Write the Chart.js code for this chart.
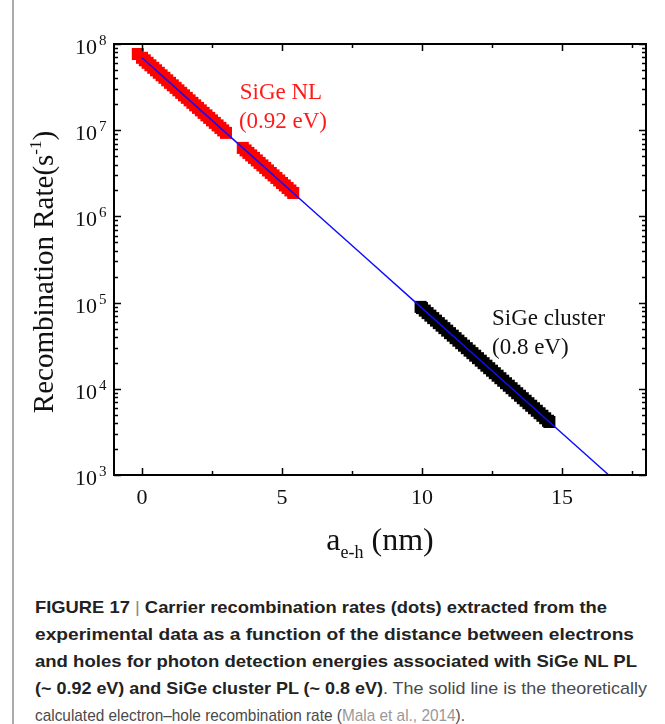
<!DOCTYPE html>
<html>

<head>
  <title>Recombination Rate vs a(e-h)</title>
  <script src="https://cdn.jsdelivr.net/npm/chart.js"></script>
  <style>
    body { margin: 0; background: #fff; }
    #wrap { position: relative; width: 665px; height: 724px; overflow: hidden; background: #fff; }
    #edge { position: absolute; left: 12px; top: 0; width: 2px; height: 724px; background: #ababab; }
    #myChart { position: absolute; left: 0; top: 0; }
    #caption {
      position: absolute; left: 35px; top: 594px;
      font-family: "Liberation Sans", Arial, sans-serif; font-size: 17px; line-height: 27px;
      color: #4a4a4a; white-space: nowrap;
    }
    #caption div { width: max-content; transform-origin: 0 0; }
    #caption b { color: #222; }
    #caption .bar { font-weight: normal; color: #888; }
    #caption .cite { color: #999; }
  </style>
</head>

<body>
  <div id="wrap">
    <div id="edge"></div>
    <canvas id="myChart" width="665" height="580"></canvas>
    <div id="caption">
      <div><b>FIGURE 17 <span class="bar">|</span> Carrier recombination rates (dots) extracted from the</b></div>
      <div><b>experimental data as a function of the distance between electrons</b></div>
      <div><b>and holes for photon detection energies associated with SiGe NL PL</b></div>
      <div><b>(~ 0.92 eV) and SiGe cluster PL (~ 0.8 eV)</b>. The solid line is the theoretically</div>
      <div>calculated electron–hole recombination rate (<span class="cite">Mala et al., 2014</span>).</div>
    </div>
  </div>
  <script>
    // theoretical electron-hole recombination rate (solid line)
    var lineX = [0, 2, 4, 6, 8, 10, 12, 14, 16, 16.67];
    var lineRate = [6.92e7, 1.815e7, 4.77e6, 1.253e6, 3.29e5, 8.63e4, 2.265e4, 5.95e3, 1.562e3, 1.0e3];

    // SiGe NL (0.92 eV) extracted rates
    var nlX = [-0.15, 0.0, 0.1, 0.2, 0.3, 0.4, 0.5, 0.6, 0.7, 0.8, 0.9, 1.0, 1.1, 1.2, 1.3, 1.4,
      1.5, 1.6, 1.7, 1.8, 1.9, 2.0, 2.1, 2.2, 2.3, 2.4, 2.5, 2.6, 2.7, 2.8, 2.9, 3.0,
      3.6, 3.7, 3.8, 3.9, 4.0, 4.1, 4.2, 4.3, 4.4, 4.5, 4.6, 4.7, 4.8, 4.9, 5.0, 5.1, 5.2, 5.3, 5.4];
    var nlRate = [7.65e7, 6.918e7, 6.471e7, 6.053e7, 5.662e7, 5.296e7, 4.954e7, 4.634e7, 4.335e7,
      4.055e7, 3.793e7, 3.545e7, 3.316e7, 3.101e7, 2.901e7, 2.713e7, 2.538e7, 2.374e7, 2.220e7,
      2.077e7, 1.942e7, 1.816e7, 1.699e7, 1.589e7, 1.486e7, 1.390e7, 1.300e7, 1.216e7, 1.137e7,
      1.064e7, 9.95e6, 9.31e6,
      6.232e6, 5.830e6, 5.452e6, 5.100e6, 4.770e6, 4.462e6, 4.172e6, 3.903e6, 3.650e6, 3.414e6,
      3.193e6, 2.987e6, 2.794e6, 2.612e6, 2.443e6, 2.286e6, 2.138e6, 2.000e6, 1.870e6];

    // SiGe cluster (0.8 eV) extracted rates
    var clusterX = [9.95, 10.0, 10.1, 10.2, 10.3, 10.4, 10.5, 10.6, 10.7, 10.8, 10.9, 11.0, 11.1,
      11.2, 11.3, 11.4, 11.5, 11.6, 11.7, 11.8, 11.9, 12.0, 12.1, 12.2, 12.3, 12.4, 12.5, 12.6, 12.7,
      12.8, 12.9, 13.0, 13.1, 13.2, 13.3, 13.4, 13.5, 13.6, 13.7, 13.8, 13.9, 14.0, 14.1, 14.2, 14.3,
      14.4, 14.5, 14.55];
    var clusterRate = [8.92e4, 8.630e4, 8.072e4, 7.550e4, 7.062e4, 6.605e4, 6.178e4, 5.779e4,
      5.404e4, 5.055e4, 4.727e4, 4.422e4, 4.136e4, 3.868e4, 3.618e4, 3.383e4, 3.165e4, 2.960e4,
      2.769e4, 2.590e4, 2.422e4, 2.266e4, 2.119e4, 1.982e4, 1.854e4, 1.734e4, 1.622e4, 1.517e4,
      1.419e4, 1.327e4, 1.241e4, 1.161e4, 1.086e4, 1.016e4, 9.500e3, 8.884e3, 8.310e3, 7.773e3,
      7.270e3, 6.800e3, 6.359e3, 5.948e3, 5.564e3, 5.204e3, 4.867e3, 4.552e3, 4.258e3, 4.118e3];

    var xMajorTicks = [0, 5, 10, 15];
    var xMinorTicks = [2.5, 7.5, 12.5, 17.5];
    var yDecades = [3, 4, 5, 6, 7, 8];

    function toPoints(xs, ys) {
      return xs.map(function (v, i) { return { x: v, y: ys[i] }; });
    }

    const serif = '"Liberation Serif", "Times New Roman", serif';

    // frame, inward ticks on all four sides, labels and titles
    const axesPlugin = {
      id: 'axesPlugin',
      afterDraw(chart) {
        const ctx = chart.ctx;
        const a = chart.chartArea;
        const x = chart.scales.x, y = chart.scales.y;
        ctx.save();
        ctx.strokeStyle = '#000';
        ctx.lineWidth = 1.5;
        ctx.beginPath();
        function xTick(v, len) {
          const px = Math.round(x.getPixelForValue(v)) + 0.5;
          ctx.moveTo(px, a.bottom); ctx.lineTo(px, a.bottom - len);
          ctx.moveTo(px, a.top); ctx.lineTo(px, a.top + len);
        }
        function yTick(v, len) {
          const py = Math.round(y.getPixelForValue(v)) + 0.5;
          ctx.moveTo(a.left, py); ctx.lineTo(a.left + len, py);
          ctx.moveTo(a.right, py); ctx.lineTo(a.right - len, py);
        }
        xMajorTicks.forEach(function (v) { xTick(v, 7); });
        xMinorTicks.forEach(function (v) { xTick(v, 4); });
        yDecades.forEach(function (d, i) {
          yTick(Math.pow(10, d), 7);
          if (i < yDecades.length - 1) {
            for (let m = 2; m <= 9; m++) yTick(m * Math.pow(10, d), 4);
          }
        });
        ctx.stroke();
        ctx.lineWidth = 2;
        ctx.strokeRect(a.left, a.top, a.right - a.left, a.bottom - a.top);

        // tick labels
        ctx.fillStyle = '#111';
        ctx.textBaseline = 'alphabetic';
        ctx.font = '22px ' + serif;
        ctx.textAlign = 'center';
        xMajorTicks.forEach(function (v) {
          ctx.fillText(String(v), x.getPixelForValue(v), a.bottom + 29);
        });
        yDecades.forEach(function (d) {
          const py = y.getPixelForValue(Math.pow(10, d));
          ctx.font = '22px ' + serif;
          ctx.textAlign = 'right';
          ctx.fillText('10', a.left - 17, py + 10);
          ctx.font = '15px ' + serif;
          ctx.textAlign = 'left';
          ctx.fillText(String(d), a.left - 15, py + 1);
        });

        // y title with superscript
        ctx.save();
        ctx.translate(53, 272);
        ctx.rotate(-Math.PI / 2);
        ctx.textAlign = 'left';
        ctx.font = '29px ' + serif;
        const t1 = 'Recombination Rate(s', t3 = ')';
        const w1 = ctx.measureText(t1).width, w3 = ctx.measureText(t3).width;
        ctx.font = '17px ' + serif;
        const w2 = ctx.measureText('-1').width;
        let sx = -(w1 + w2 + w3) / 2;
        ctx.font = '29px ' + serif;
        ctx.fillText(t1, sx, 0);
        ctx.font = '17px ' + serif;
        ctx.fillText('-1', sx + w1, -12);
        ctx.font = '29px ' + serif;
        ctx.fillText(t3, sx + w1 + w2, 0);
        ctx.restore();

        // x title with subscript
        ctx.textAlign = 'left';
        ctx.font = '32px ' + serif;
        const wa = ctx.measureText('a').width, wn = ctx.measureText(' (nm)').width;
        ctx.font = '18px ' + serif;
        const ws = ctx.measureText('e-h').width;
        let tx = 380 - (wa + ws + wn) / 2;
        ctx.font = '32px ' + serif;
        ctx.fillText('a', tx, 550);
        ctx.font = '18px ' + serif;
        ctx.fillText('e-h', tx + wa, 558);
        ctx.font = '32px ' + serif;
        ctx.fillText(' (nm)', tx + wa + ws, 550);

        // series annotations
        ctx.font = '23px ' + serif;
        ctx.fillStyle = '#ff1a1a';
        ctx.fillText('SiGe NL', x.getPixelForValue(3.49), y.getPixelForValue(2.3e7));
        ctx.fillText('(0.92 eV)', x.getPixelForValue(3.46), y.getPixelForValue(1.06e7));
        ctx.fillStyle = '#111';
        ctx.fillText('SiGe cluster', x.getPixelForValue(12.5), y.getPixelForValue(5.5e4));
        ctx.fillText('(0.8 eV)', x.getPixelForValue(12.5), y.getPixelForValue(2.53e4));
        ctx.restore();
      }
    };

    var ctx = document.getElementById('myChart').getContext('2d');
    var chart = new Chart(ctx, {
      type: 'scatter',
      data: {
        datasets: [
          {
            label: 'Theory',
            data: toPoints(lineX, lineRate),
            showLine: true,
            borderColor: 'rgb(15,15,255)',
            borderWidth: 1.5,
            pointRadius: 0,
            tension: 0
          },
          {
            label: 'SiGe NL',
            data: toPoints(nlX, nlRate),
            pointStyle: 'rect',
            pointRadius: 8.5,
            borderWidth: 0,
            backgroundColor: '#ff0000'
          },
          {
            label: 'SiGe cluster',
            data: toPoints(clusterX, clusterRate),
            pointStyle: 'rect',
            pointRadius: 8.5,
            borderWidth: 0,
            backgroundColor: '#000000'
          }
        ]
      },
      options: {
        responsive: false,
        animation: false,
        layout: { padding: { left: 114, top: 44, right: 19, bottom: 105 } },
        plugins: { legend: { display: false }, tooltip: { enabled: false } },
        scales: {
          x: { type: 'linear', min: -1, max: 18, display: false },
          y: { type: 'logarithmic', min: 1000, max: 1e8, display: false }
        }
      },
      plugins: [axesPlugin]
    });

    // squeeze each caption line to its column width
    var lineEnds = [607, 634, 637, 647, 465];
    document.querySelectorAll('#caption div').forEach(function (el, i) {
      var w = el.getBoundingClientRect().width;
      el.style.transform = 'scaleX(' + ((lineEnds[i] - 35) / w).toFixed(4) + ')';
    });
  </script>
</body>

</html>
